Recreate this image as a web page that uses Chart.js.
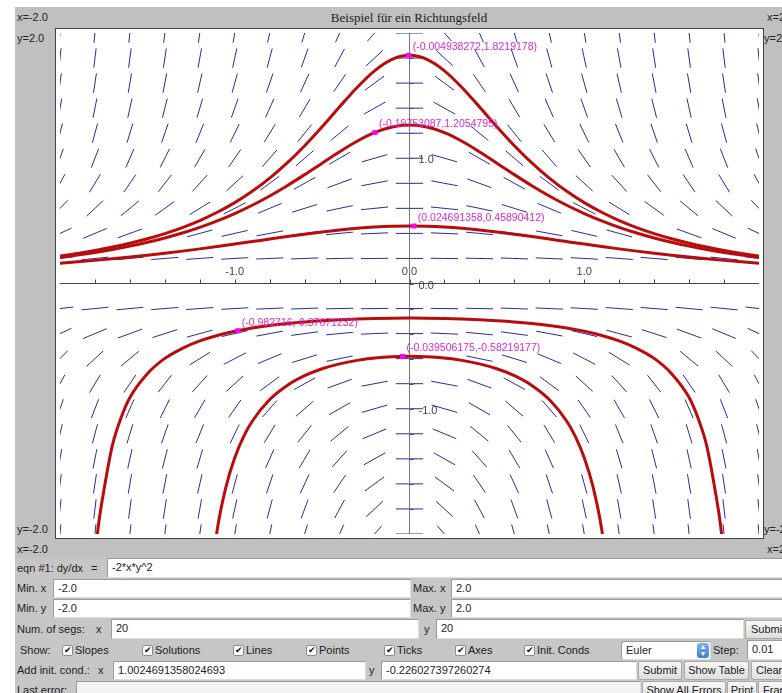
<!DOCTYPE html>
<html>
<head>
<meta charset="utf-8">
<title>Richtungsfeld</title>
<script src="https://cdn.jsdelivr.net/npm/chart.js@4.4.1/dist/chart.umd.min.js"></script>
<style>
body{margin:0;width:782px;height:693px;overflow:hidden;background:#fff;position:relative;
  font-family:"Liberation Sans",Arial,sans-serif;font-size:11px;color:#222}
.a{position:absolute;white-space:nowrap}
.l{position:absolute;white-space:nowrap;line-height:14px}
#panel{left:15px;top:7px;width:767px;height:551px;background:#c0c0c0}
#form{left:15px;top:558px;width:767px;height:135px;background:#c6c6c6}
#plot{left:55px;top:28px;width:707px;height:509px;border:1px solid #404040;background:#fff}
#plot canvas{display:block}
.ttl{font-family:"Liberation Serif","Times New Roman",serif;font-size:13px;color:#222}
.in{position:absolute;box-sizing:border-box;background:#fff;border:1px solid #9a9a9a;
  border-right-color:#dcdcdc;border-bottom-color:#dcdcdc;padding-left:4px;line-height:17px;white-space:nowrap}
.bt{position:absolute;box-sizing:border-box;border:1px solid #a8a8a8;border-radius:2px;
  background:linear-gradient(#f7f7f7,#dddddd);text-align:center;line-height:17px;white-space:nowrap}
.cb{position:absolute;box-sizing:border-box;width:11px;height:11px;background:#fff;border:1px solid #8c8c8c;
  border-radius:2px;font-size:9px;line-height:9px;text-align:center;color:#111}
</style>
</head>
<body>
<div id="panel" class="a"></div>
<div class="a ttl" style="left:259px;top:10px;width:300px;text-align:center">Beispiel für ein Richtungsfeld</div>
<div class="l" style="left:17px;top:10px">x=-2.0</div>
<div class="l" style="left:17px;top:31px">y=2.0</div>
<div class="l" style="left:17px;top:522px">y=-2.0</div>
<div class="l" style="left:17px;top:542px">x=-2.0</div>
<div class="l" style="left:767px;top:10px">x=2.0</div>
<div class="l" style="left:764px;top:31px">y=2.0</div>
<div class="l" style="left:764px;top:522px">y=-2.0</div>
<div class="l" style="left:767px;top:542px">x=2.0</div>
<div id="plot" class="a"><canvas id="chart" width="707" height="509"></canvas></div>

<div id="form" class="a"></div>
<!-- row 1 -->
<div class="l" style="left:17px;top:561px">eqn #1: dy/dx</div>
<div class="l" style="left:91px;top:561px">=</div>
<div class="in" style="left:107px;top:558px;width:690px;height:20px">-2*x*y^2</div>
<!-- row 2 -->
<div class="l" style="left:17px;top:581px">Min. x</div>
<div class="in" style="left:53px;top:579px;width:358px;height:19px">-2.0</div>
<div class="l" style="left:413px;top:581px">Max. x</div>
<div class="in" style="left:451px;top:579px;width:350px;height:19px">2.0</div>
<!-- row 3 -->
<div class="l" style="left:17px;top:601px">Min. y</div>
<div class="in" style="left:53px;top:599px;width:358px;height:19px">-2.0</div>
<div class="l" style="left:413px;top:601px">Max. y</div>
<div class="in" style="left:451px;top:599px;width:350px;height:19px">2.0</div>
<!-- row 4 -->
<div class="l" style="left:17px;top:622px">Num. of segs:</div>
<div class="l" style="left:96px;top:622px">x</div>
<div class="in" style="left:111px;top:619px;width:308px;height:20px">20</div>
<div class="l" style="left:424px;top:622px">y</div>
<div class="in" style="left:436px;top:619px;width:308px;height:20px">20</div>
<div class="bt" style="left:745px;top:620px;width:60px;height:19px;text-align:left;padding-left:5px">Submit</div>
<!-- row 5 -->
<div class="l" style="left:20px;top:643px">Show:</div>
<div class="cb" style="left:62px;top:645px">✔</div><div class="l" style="left:75px;top:643px">Slopes</div>
<div class="cb" style="left:142px;top:645px">✔</div><div class="l" style="left:155px;top:643px">Solutions</div>
<div class="cb" style="left:233px;top:645px">✔</div><div class="l" style="left:246px;top:643px">Lines</div>
<div class="cb" style="left:306px;top:645px">✔</div><div class="l" style="left:319px;top:643px">Points</div>
<div class="cb" style="left:384px;top:645px">✔</div><div class="l" style="left:397px;top:643px">Ticks</div>
<div class="cb" style="left:455px;top:645px">✔</div><div class="l" style="left:468px;top:643px">Axes</div>
<div class="cb" style="left:524px;top:645px">✔</div><div class="l" style="left:537px;top:643px">Init. Conds</div>
<div class="in" style="left:621px;top:641px;width:90px;height:19px;border-radius:3px">Euler</div>
<div class="a" style="left:697px;top:643px;width:12px;height:15px;border-radius:3px;background:linear-gradient(#7fb2f0,#3d7fd8);color:#fff;font-size:7px;line-height:7px;text-align:center">▲<br>▼</div>
<div class="l" style="left:713px;top:643px">Step:</div>
<div class="in" style="left:747px;top:640px;width:60px;height:20px">0.01</div>
<!-- row 6 -->
<div class="l" style="left:17px;top:663px">Add init. cond.:</div>
<div class="l" style="left:98px;top:663px">x</div>
<div class="in" style="left:113px;top:661px;width:253px;height:19px">1.0024691358024693</div>
<div class="l" style="left:369px;top:663px">y</div>
<div class="in" style="left:381px;top:661px;width:256px;height:19px">-0.226027397260274</div>
<div class="bt" style="left:638px;top:661px;width:44px;height:19px">Submit</div>
<div class="bt" style="left:684px;top:661px;width:65px;height:19px">Show Table</div>
<div class="bt" style="left:751px;top:661px;width:50px;height:19px;text-align:left;padding-left:4px">Clear</div>
<!-- row 7 -->
<div class="l" style="left:17px;top:683px">Last error:</div>
<div class="in" style="left:76px;top:681px;width:565px;height:19px;background:#f2f2f2"></div>
<div class="bt" style="left:642px;top:681px;width:84px;height:19px">Show All Errors</div>
<div class="bt" style="left:727px;top:681px;width:30px;height:19px">Print</div>
<div class="bt" style="left:758px;top:681px;width:50px;height:19px;text-align:left;padding-left:4px">Frame</div>

<script>
// grid of the slope field (20 segments each way)
const slopeX = [-2, -1.8, -1.6, -1.4, -1.2, -1, -0.8, -0.6, -0.4, -0.2, 0, 0.2, 0.4, 0.6, 0.8, 1, 1.2, 1.4, 1.6, 1.8, 2];
const slopeY = [2, 1.8, 1.6, 1.4, 1.2, 1, 0.8, 0.6, 0.4, 0.2, 0, -0.2, -0.4, -0.6, -0.8, -1, -1.2, -1.4, -1.6, -1.8, -2];

// dy/dx at each grid point, one row per slopeY value
const slopeTable = [
  [16, 14.4, 12.8, 11.2, 9.6, 8, 6.4, 4.8, 3.2, 1.6, 0, -1.6, -3.2, -4.8, -6.4, -8, -9.6, -11.2, -12.8, -14.4, -16],
  [12.96, 11.66, 10.37, 9.07, 7.78, 6.48, 5.18, 3.89, 2.59, 1.3, 0, -1.3, -2.59, -3.89, -5.18, -6.48, -7.78, -9.07, -10.37, -11.66, -12.96],
  [10.24, 9.22, 8.19, 7.17, 6.14, 5.12, 4.1, 3.07, 2.05, 1.02, 0, -1.02, -2.05, -3.07, -4.1, -5.12, -6.14, -7.17, -8.19, -9.22, -10.24],
  [7.84, 7.06, 6.27, 5.49, 4.7, 3.92, 3.14, 2.35, 1.57, 0.78, 0, -0.78, -1.57, -2.35, -3.14, -3.92, -4.7, -5.49, -6.27, -7.06, -7.84],
  [5.76, 5.18, 4.61, 4.03, 3.46, 2.88, 2.3, 1.73, 1.15, 0.58, 0, -0.58, -1.15, -1.73, -2.3, -2.88, -3.46, -4.03, -4.61, -5.18, -5.76],
  [4, 3.6, 3.2, 2.8, 2.4, 2, 1.6, 1.2, 0.8, 0.4, 0, -0.4, -0.8, -1.2, -1.6, -2, -2.4, -2.8, -3.2, -3.6, -4],
  [2.56, 2.3, 2.05, 1.79, 1.54, 1.28, 1.02, 0.77, 0.51, 0.26, 0, -0.26, -0.51, -0.77, -1.02, -1.28, -1.54, -1.79, -2.05, -2.3, -2.56],
  [1.44, 1.3, 1.15, 1.01, 0.86, 0.72, 0.58, 0.43, 0.29, 0.14, 0, -0.14, -0.29, -0.43, -0.58, -0.72, -0.86, -1.01, -1.15, -1.3, -1.44],
  [0.64, 0.58, 0.51, 0.45, 0.38, 0.32, 0.26, 0.19, 0.13, 0.06, 0, -0.06, -0.13, -0.19, -0.26, -0.32, -0.38, -0.45, -0.51, -0.58, -0.64],
  [0.16, 0.14, 0.13, 0.11, 0.1, 0.08, 0.06, 0.05, 0.03, 0.02, 0, -0.02, -0.03, -0.05, -0.06, -0.08, -0.1, -0.11, -0.13, -0.14, -0.16],
  [0, 0, 0, 0, 0, 0, 0, 0, 0, 0, 0, 0, 0, 0, 0, 0, 0, 0, 0, 0, 0],
  [0.16, 0.14, 0.13, 0.11, 0.1, 0.08, 0.06, 0.05, 0.03, 0.02, 0, -0.02, -0.03, -0.05, -0.06, -0.08, -0.1, -0.11, -0.13, -0.14, -0.16],
  [0.64, 0.58, 0.51, 0.45, 0.38, 0.32, 0.26, 0.19, 0.13, 0.06, 0, -0.06, -0.13, -0.19, -0.26, -0.32, -0.38, -0.45, -0.51, -0.58, -0.64],
  [1.44, 1.3, 1.15, 1.01, 0.86, 0.72, 0.58, 0.43, 0.29, 0.14, 0, -0.14, -0.29, -0.43, -0.58, -0.72, -0.86, -1.01, -1.15, -1.3, -1.44],
  [2.56, 2.3, 2.05, 1.79, 1.54, 1.28, 1.02, 0.77, 0.51, 0.26, 0, -0.26, -0.51, -0.77, -1.02, -1.28, -1.54, -1.79, -2.05, -2.3, -2.56],
  [4, 3.6, 3.2, 2.8, 2.4, 2, 1.6, 1.2, 0.8, 0.4, 0, -0.4, -0.8, -1.2, -1.6, -2, -2.4, -2.8, -3.2, -3.6, -4],
  [5.76, 5.18, 4.61, 4.03, 3.46, 2.88, 2.3, 1.73, 1.15, 0.58, 0, -0.58, -1.15, -1.73, -2.3, -2.88, -3.46, -4.03, -4.61, -5.18, -5.76],
  [7.84, 7.06, 6.27, 5.49, 4.7, 3.92, 3.14, 2.35, 1.57, 0.78, 0, -0.78, -1.57, -2.35, -3.14, -3.92, -4.7, -5.49, -6.27, -7.06, -7.84],
  [10.24, 9.22, 8.19, 7.17, 6.14, 5.12, 4.1, 3.07, 2.05, 1.02, 0, -1.02, -2.05, -3.07, -4.1, -5.12, -6.14, -7.17, -8.19, -9.22, -10.24],
  [12.96, 11.66, 10.37, 9.07, 7.78, 6.48, 5.18, 3.89, 2.59, 1.3, 0, -1.3, -2.59, -3.89, -5.18, -6.48, -7.78, -9.07, -10.37, -11.66, -12.96],
  [16, 14.4, 12.8, 11.2, 9.6, 8, 6.4, 4.8, 3.2, 1.6, 0, -1.6, -3.2, -4.8, -6.4, -8, -9.6, -11.2, -12.8, -14.4, -16]
];

// solution curves
const curveX = [-2, -1.9, -1.8, -1.7, -1.6, -1.5, -1.4, -1.3, -1.2, -1.1, -1, -0.9, -0.8, -0.7, -0.6, -0.5, -0.4, -0.3, -0.2, -0.1, 0,
  0.1, 0.2, 0.3, 0.4, 0.5, 0.6, 0.7, 0.8, 0.9, 1, 1.1, 1.2, 1.3, 1.4, 1.5, 1.6, 1.7, 1.8, 1.9, 2];
const curveA = [0.2198, 0.2405, 0.2639, 0.2908, 0.3217, 0.3573, 0.3986, 0.4467, 0.5028, 0.5686, 0.6456, 0.7359, 0.8412, 0.9626, 1.1003, 1.2518, 1.4107, 1.5653, 1.6982, 1.7894, 1.822,
  1.7894, 1.6982, 1.5653, 1.4107, 1.2518, 1.1003, 0.9626, 0.8412, 0.7359, 0.6456, 0.5686, 0.5028, 0.4467, 0.3986, 0.3573, 0.3217, 0.2908, 0.2639, 0.2405, 0.2198];
const curveB = [0.2087, 0.2272, 0.2481, 0.2717, 0.2985, 0.3289, 0.3636, 0.4031, 0.4483, 0.4999, 0.5585, 0.6248, 0.699, 0.7809, 0.8692, 0.961, 1.052, 1.1357, 1.2041, 1.2492, 1.265,
  1.2492, 1.2041, 1.1357, 1.052, 0.961, 0.8692, 0.7809, 0.699, 0.6248, 0.5585, 0.4999, 0.4483, 0.4031, 0.3636, 0.3289, 0.2985, 0.2717, 0.2481, 0.2272, 0.2087];
const curveC = [0.1619, 0.1728, 0.1846, 0.1973, 0.211, 0.2258, 0.2416, 0.2585, 0.2764, 0.2951, 0.3146, 0.3346, 0.3548, 0.3747, 0.3939, 0.4118, 0.4276, 0.4408, 0.4508, 0.4569, 0.459,
  0.4569, 0.4508, 0.4408, 0.4276, 0.4118, 0.3939, 0.3747, 0.3548, 0.3346, 0.3146, 0.2951, 0.2764, 0.2585, 0.2416, 0.2258, 0.211, 0.1973, 0.1846, 0.1728, 0.1619];
const curveDX = [-1.82, -1.8, -1.78, -1.75, -1.7, -1.65, -1.6, -1.5, -1.4, -1.3, -1.2, -1.1, -1, -0.9, -0.8, -0.7, -0.6, -0.5, -0.4, -0.3, -0.2, -0.1, 0,
  0.1, 0.2, 0.3, 0.4, 0.5, 0.6, 0.7, 0.8, 0.9, 1, 1.1, 1.2, 1.3, 1.4, 1.5, 1.6, 1.65, 1.7, 1.75, 1.78, 1.8, 1.82];
const curveDY = [-2.55, -2.2, -1.93, -1.66, -1.29, -1.07, -0.91, -0.72, -0.598, -0.5181, -0.4587, -0.4149, -0.3816, -0.3558, -0.3355, -0.3195, -0.3067, -0.2967, -0.289, -0.2833, -0.2793, -0.277, -0.2762,
  -0.277, -0.2793, -0.2833, -0.289, -0.2967, -0.3067, -0.3195, -0.3355, -0.3558, -0.3816, -0.4149, -0.4587, -0.5181, -0.598, -0.72, -0.91, -1.07, -1.29, -1.66, -1.93, -2.2, -2.55];
const curveEX = [-1.15, -1.1, -1.05, -1, -0.95, -0.9, -0.8, -0.7, -0.6, -0.5, -0.4, -0.3, -0.2, -0.1, 0,
  0.1, 0.2, 0.3, 0.4, 0.5, 0.6, 0.7, 0.8, 0.9, 0.95, 1, 1.05, 1.1, 1.15];
const curveEY = [-2.5207, -1.9638, -1.6215, -1.3904, -1.2244, -1.0999, -0.9266, -0.8135, -0.7357, -0.6806, -0.6414, -0.6138, -0.5955, -0.5851, -0.5817,
  -0.5851, -0.5955, -0.6138, -0.6414, -0.6806, -0.7357, -0.8135, -0.9266, -1.0999, -1.2244, -1.3904, -1.6215, -1.9638, -2.5207];

// initial conditions (magenta marks)
const initX = [-0.004938272, -0.19753087, 0.024691358, -0.982716, -0.039506175];
const initY = [1.8219178, 1.2054795, 0.45890412, -0.37671232, -0.58219177];

// axis ticks
const tickValues = [-1.8, -1.6, -1.4, -1.2, -1, -0.8, -0.6, -0.4, -0.2, 0, 0.2, 0.4, 0.6, 0.8, 1, 1.2, 1.4, 1.6, 1.8];
const tickLabelValues = [-1, 0, 1];
const tickLabels = ['-1.0', '0.0', '1.0'];

const SEG_HALF = 0.078; // half length of a slope mark, in data units
const SLOPES_INDEX = 6;

function pairs(xs, ys) {
  return xs.map((v, i) => ({x: v, y: ys[i]}));
}

function slopeSegments() {
  const pts = [];
  slopeY.forEach((yv, r) => {
    slopeX.forEach((xv, c) => {
      const m = slopeTable[r][c];
      const dx = SEG_HALF / Math.sqrt(1 + m * m);
      pts.push({x: xv - dx, y: yv - m * dx});
      pts.push({x: xv + dx, y: yv + m * dx});
      pts.push({x: xv, y: null});
    });
  });
  return pts;
}

const curveStyle = {
  borderColor: 'rgb(185,12,12)',
  borderWidth: 3,
  pointRadius: 0,
  cubicInterpolationMode: 'monotone',
  order: 2
};

// axes go on top of the slope marks, under the solution curves
const fieldDeco = {
  id: 'fieldDeco',
  afterDatasetDraw(chart, args) {
    if (args.index !== SLOPES_INDEX) return;
    const {ctx, chartArea: a, scales: {x, y}} = chart;
    const x0 = Math.floor(x.getPixelForValue(0)) + 0.5;
    const y0 = Math.floor(y.getPixelForValue(0)) + 0.5;
    ctx.save();
    ctx.lineWidth = 1;
    ctx.strokeStyle = '#7a7a7a';
    ctx.beginPath();
    ctx.moveTo(x0, a.top);
    ctx.lineTo(x0, a.bottom);
    ctx.stroke();
    ctx.strokeStyle = '#4a4a4a';
    ctx.beginPath();
    ctx.moveTo(a.left, y0);
    ctx.lineTo(a.right, y0);
    tickValues.forEach(v => {
      const px = Math.round(x.getPixelForValue(v)) + 0.5;
      ctx.moveTo(px, y0);
      ctx.lineTo(px, y0 - 4);
      const py = Math.round(y.getPixelForValue(v)) + 0.5;
      ctx.moveTo(x0, py);
      ctx.lineTo(x0 + 4, py);
    });
    ctx.stroke();
    ctx.fillStyle = '#444';
    ctx.font = '11px "Liberation Sans", Arial, sans-serif';
    ctx.textBaseline = 'middle';
    tickLabelValues.forEach((v, i) => {
      ctx.textAlign = 'center';
      ctx.fillText(tickLabels[i], x.getPixelForValue(v), y0 - 12);
      ctx.textAlign = 'left';
      ctx.fillText(tickLabels[i], x0 + 9, y.getPixelForValue(v) + 2);
    });
    ctx.restore();
  },
  afterDatasetsDraw(chart) {
    const {ctx, scales: {x, y}} = chart;
    ctx.save();
    ctx.fillStyle = 'rgb(214,40,214)';
    ctx.font = '10.5px "Liberation Sans", Arial, sans-serif';
    ctx.textAlign = 'left';
    ctx.textBaseline = 'middle';
    initX.forEach((v, i) => {
      ctx.fillText('(' + v + ',' + initY[i] + ')', x.getPixelForValue(v) + 4, y.getPixelForValue(initY[i]) - 8);
    });
    ctx.restore();
  }
};

const chart = new Chart(document.getElementById('chart').getContext('2d'), {
  type: 'line',
  data: {
    datasets: [
      {label: 'Init. Conds', data: pairs(initX, initY), showLine: false, pointStyle: 'rect',
        pointRadius: 3.5, pointBackgroundColor: '#ff00ff', pointBorderWidth: 0, order: 0},
      Object.assign({label: 'A', data: pairs(curveX, curveA)}, curveStyle),
      Object.assign({label: 'B', data: pairs(curveX, curveB)}, curveStyle),
      Object.assign({label: 'C', data: pairs(curveX, curveC)}, curveStyle),
      Object.assign({label: 'D', data: pairs(curveDX, curveDY)}, curveStyle),
      Object.assign({label: 'E', data: pairs(curveEX, curveEY)}, curveStyle),
      {label: 'Slopes', data: slopeSegments(), borderColor: 'rgb(42,42,168)', borderWidth: 1,
        pointRadius: 0, spanGaps: false, order: 5}
    ]
  },
  options: {
    responsive: false,
    animation: false,
    events: [],
    layout: {padding: 0},
    scales: {
      x: {type: 'linear', min: -2, max: 2, display: false},
      y: {type: 'linear', min: -2, max: 2, display: false}
    },
    plugins: {
      legend: {display: false},
      tooltip: {enabled: false}
    }
  },
  plugins: [fieldDeco]
});
</script>
</body>
</html>
